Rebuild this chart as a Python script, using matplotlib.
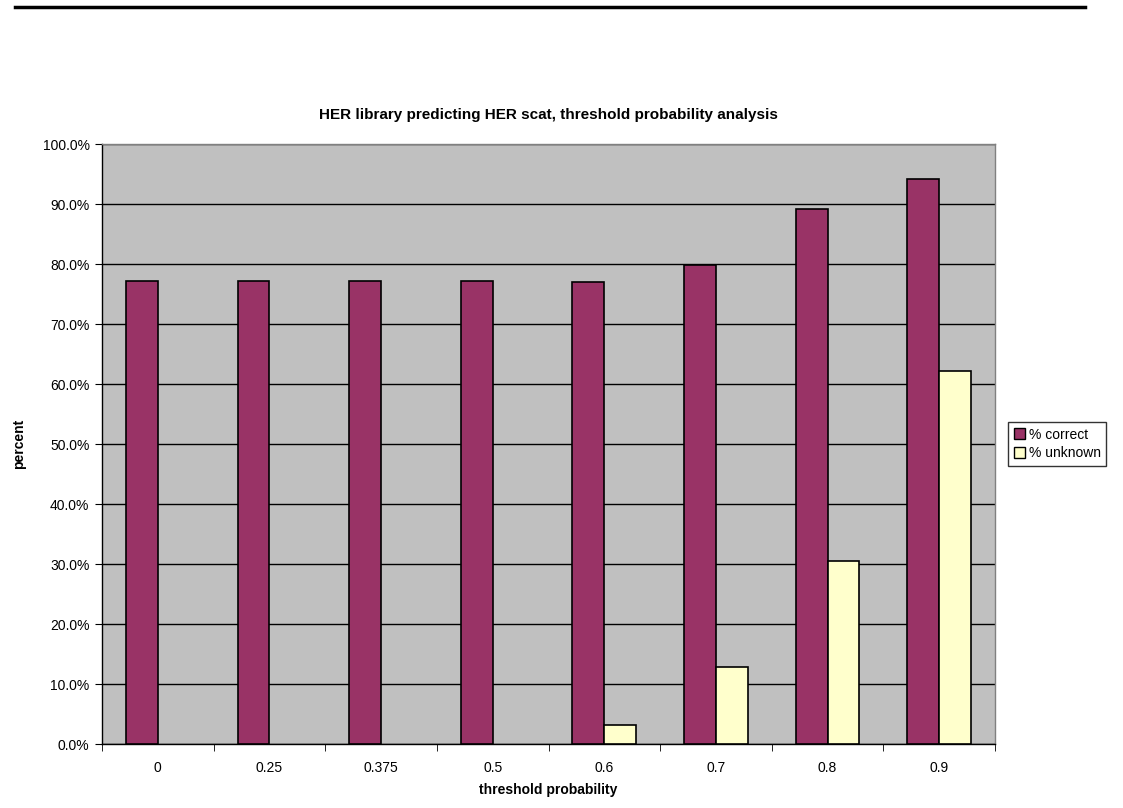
import matplotlib
matplotlib.use("Agg")
import matplotlib.pyplot as plt
from matplotlib.patches import Patch
import numpy as np

plt.rcParams['font.family'] = ['Liberation Sans', 'DejaVu Sans']

categories = ["0", "0.25", "0.375", "0.5", "0.6", "0.7", "0.8", "0.9"]
pct_correct = [77.2, 77.2, 77.2, 77.2, 77.0, 79.9, 89.2, 94.1]
pct_unknown = [0.0, 0.0, 0.0, 0.0, 3.1, 12.8, 30.5, 62.2]
y_ticks = [0, 10, 20, 30, 40, 50, 60, 70, 80, 90, 100]
c_correct, c_unknown = '#993366', '#FFFFCC'

W, H = 1123, 808
fig = plt.figure(figsize=(W / 100, H / 100), dpi=100)
ax = fig.add_axes([102 / W, (H - 744) / H, 893 / W, 600 / H])
ax.set_facecolor('#C0C0C0')

x = np.arange(len(categories))
bw = 1 / 3.5
b1 = ax.bar(x - bw / 2, pct_correct, bw, color=c_correct, edgecolor='black', linewidth=1.2,
            zorder=3)
b2 = ax.bar(x + bw / 2, pct_unknown, bw, color=c_unknown, edgecolor='black', linewidth=1.2,
            zorder=3)
for p in list(b1) + list(b2):
    if p.get_height() == 0:
        p.set_visible(False)

ax.set_xlim(-0.5, len(categories) - 0.5)
ax.set_ylim(0, 100)
ax.set_yticks(y_ticks)
ax.set_yticklabels([f"{v:.1f}%" for v in y_ticks], fontsize=10)
ax.yaxis.grid(True, color='black', linewidth=1, zorder=1)
ax.set_axisbelow(True)

ax.set_xticks(x)
ax.set_xticklabels(categories, fontsize=10)
ax.tick_params(axis='x', which='major', length=0, pad=12)
ax.set_xticks(np.arange(len(categories) + 1) - 0.5, minor=True)
ax.tick_params(axis='x', which='minor', length=5, direction='out', color='black')
ax.tick_params(axis='y', length=5, direction='out', color='black', pad=4)

for s in ['left', 'bottom']:
    ax.spines[s].set_color('black')
    ax.spines[s].set_linewidth(1)
for s in ['top', 'right']:
    ax.spines[s].set_color('#808080')
    ax.spines[s].set_linewidth(1)

ax.set_xlabel('threshold probability', fontsize=10, fontweight='bold', labelpad=6)
ax.set_ylabel('percent', fontsize=10, fontweight='bold', labelpad=12)

fig.text(0.5 * (102 + 995) / W, 1 - 115 / H,
         'HER library predicting HER scat, threshold probability analysis',
         ha='center', va='center', fontsize=11, fontweight='bold')

handles = [Patch(facecolor=c_correct, edgecolor='black', linewidth=1, label='% correct'),
           Patch(facecolor=c_unknown, edgecolor='black', linewidth=1, label='% unknown')]
leg = ax.legend(handles=handles, loc='center left', bbox_to_anchor=(1008 / W, 1 - 444 / H),
                bbox_transform=fig.transFigure, fontsize=10, frameon=True,
                fancybox=False, edgecolor='black', handlelength=0.8, handleheight=0.8,
                handletextpad=0.3, borderpad=0.4, labelspacing=0.35, borderaxespad=0)
leg.get_frame().set_linewidth(1)

fig.add_artist(plt.Line2D([15 / W, 1085 / W], [1 - 7 / H, 1 - 7 / H],
                          color='black', linewidth=2.5, transform=fig.transFigure))

fig.savefig('out.png', dpi=100)
